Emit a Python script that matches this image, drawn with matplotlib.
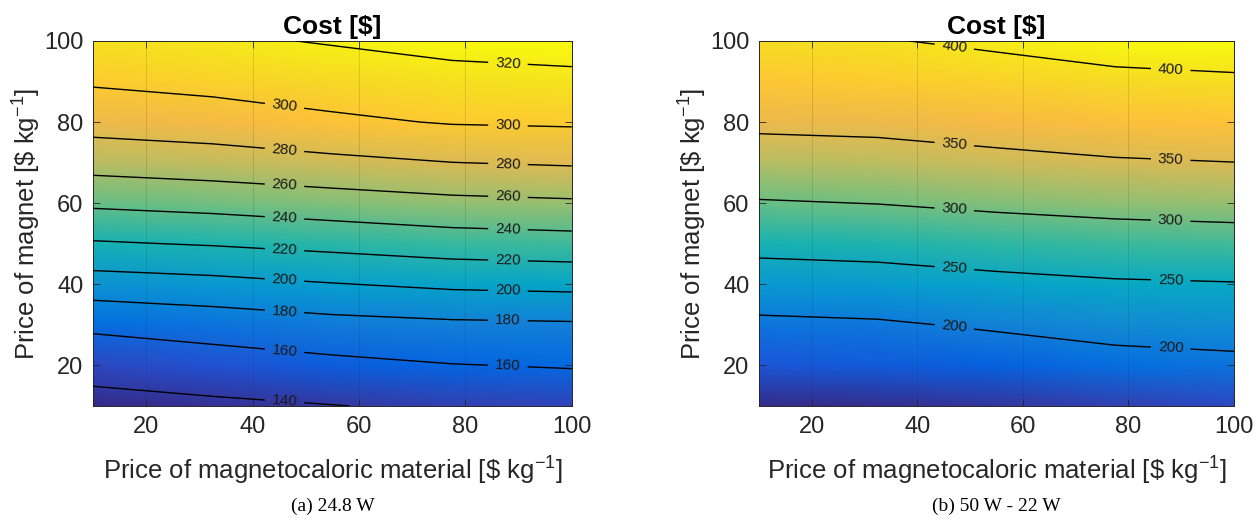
import numpy as np
import matplotlib.pyplot as plt
from matplotlib.colors import LinearSegmentedColormap

plt.rcParams['font.family'] = ['Liberation Sans', 'DejaVu Sans']
plt.rcParams['mathtext.default'] = 'regular'

# price grid (nodes of the cost maps)
mcm_price = [10, 32.5, 55, 77.5, 100]
magnet_price = [10, 20, 30, 40, 50, 60, 70, 80, 90, 100]

# cost [$]: one row per magnet price, one column per mcm price
cost_a = [
    [133.0, 136.6, 139.5, 143.0, 144.9],
    [147.4, 150.9, 155.3, 159.3, 161.3],
    [163.5, 168.4, 173.5, 176.5, 177.7],
    [190.7, 194.1, 199.1, 203.5, 205.2],
    [218.1, 221.3, 225.6, 230.0, 232.1],
    [243.2, 246.4, 250.9, 255.1, 257.3],
    [267.6, 271.1, 275.4, 279.8, 282.0],
    [287.4, 290.3, 296.7, 301.2, 302.4],
    [302.0, 305.9, 309.7, 313.6, 315.3],
    [313.0, 317.0, 321.3, 325.9, 328.1],
]
cost_b = [
    [140.0, 143.0, 148.0, 155.0, 160.0],
    [168.0, 171.0, 174.5, 185.4, 190.0],
    [191.4, 195.0, 205.1, 214.7, 218.7],
    [227.1, 230.7, 239.1, 245.4, 248.0],
    [262.4, 266.0, 273.4, 279.1, 282.3],
    [296.9, 300.7, 307.7, 313.2, 316.3],
    [330.1, 333.6, 341.3, 347.0, 349.7],
    [358.0, 360.0, 365.0, 370.0, 372.4],
    [376.0, 380.0, 385.3, 392.0, 395.0],
    [394.0, 398.0, 405.5, 414.0, 417.6],
]
levels_a = [140, 160, 180, 200, 220, 240, 260, 280, 300, 320]
levels_b = [200, 250, 300, 350, 400]
captions = ['(a) 24.8 W', '(b) 50 W - 22 W']

# MATLAB parula (subsampled)
parula = LinearSegmentedColormap.from_list('parula', [
    (0.2081, 0.1663, 0.5292), (0.2123, 0.2138, 0.6270), (0.1959, 0.2645, 0.7279),
    (0.1253, 0.3242, 0.8303), (0.0117, 0.3875, 0.8820), (0.0165, 0.4266, 0.8786),
    (0.0498, 0.4586, 0.8641), (0.0723, 0.4887, 0.8467), (0.0793, 0.5200, 0.8312),
    (0.0641, 0.5570, 0.8240), (0.0343, 0.5966, 0.8199), (0.0239, 0.6287, 0.8038),
    (0.0228, 0.6535, 0.7768), (0.0384, 0.6743, 0.7436), (0.0843, 0.6928, 0.7062),
    (0.1453, 0.7098, 0.6646), (0.2178, 0.7250, 0.6193), (0.3022, 0.7376, 0.5712),
    (0.3953, 0.7459, 0.5244), (0.4871, 0.7491, 0.4840), (0.5709, 0.7485, 0.4494),
    (0.6473, 0.7456, 0.4188), (0.7184, 0.7411, 0.3905), (0.7858, 0.7356, 0.3633),
    (0.8507, 0.7299, 0.3360), (0.9139, 0.7258, 0.3063), (0.9739, 0.7314, 0.2666),
    (0.9990, 0.7653, 0.2164), (0.9880, 0.8066, 0.1794), (0.9697, 0.8481, 0.1475),
    (0.9589, 0.8949, 0.1132), (0.9661, 0.9514, 0.0755), (0.9763, 0.9831, 0.0538),
])


def label_points(cs, targets):
    # points on each contour line at the given x positions
    pts = []
    for segs in cs.allsegs:
        for seg in segs:
            if len(seg) < 2:
                continue
            order = np.argsort(seg[:, 0])
            sx, sy = seg[order, 0], seg[order, 1]
            for tx in targets:
                if sx.min() <= tx <= sx.max():
                    pts.append((tx, np.interp(tx, sx, sy)))
    return pts


fig = plt.figure(figsize=(12.6, 5.24), dpi=100)
ax1 = fig.add_axes([0.0738, 0.2252, 0.380, 0.6966])
ax2 = fig.add_axes([0.6024, 0.2252, 0.377, 0.6966])

X, Y = np.meshgrid(mcm_price, magnet_price)
panels = [(ax1, cost_a, levels_a, [46, 88]), (ax2, cost_b, levels_b, [47, 88])]

for (ax, cost, levels, lab_x), cap in zip(panels, captions):
    Z = np.array(cost)
    ax.pcolormesh(X, Y, Z, cmap=parula, shading='gouraud', zorder=0)
    cs = ax.contour(X, Y, Z, levels=levels, colors='k', linewidths=1.0, zorder=3)
    ax.clabel(cs, manual=label_points(cs, lab_x), inline=True, fontsize=11,
              fmt='%d', inline_spacing=7, colors='0.1')

    ax.set_xlim(10, 100)
    ax.set_ylim(10, 100)
    ax.set_xticks([20, 40, 60, 80, 100])
    ax.set_yticks([20, 40, 60, 80, 100])
    ax.set_axisbelow(False)
    ax.grid(True, axis='x', color='0.15', alpha=0.15, linewidth=0.7)
    ax.tick_params(direction='in', top=True, right=True, length=5, width=0.6,
                   labelsize=17, colors='0.15', pad=7)
    for s in ax.spines.values():
        s.set_color('0.15')
        s.set_linewidth(0.7)

    ax.set_title('Cost [$]', fontsize=19, fontweight='bold', pad=5)
    ax.set_xlabel(r'Price of magnetocaloric material [\$ kg$^{-1}$]', fontsize=18.5,
                  color='0.15', labelpad=12)
    ax.set_ylabel(r'Price of magnet [\$ kg$^{-1}$]', fontsize=18.5, color='0.15',
                  labelpad=1)

    pos = ax.get_position()
    fig.text((pos.x0 + pos.x1) / 2, 0.034, cap, ha='center', va='center',
             fontsize=14, family='Liberation Serif')

fig.savefig('out.png', dpi=100)
